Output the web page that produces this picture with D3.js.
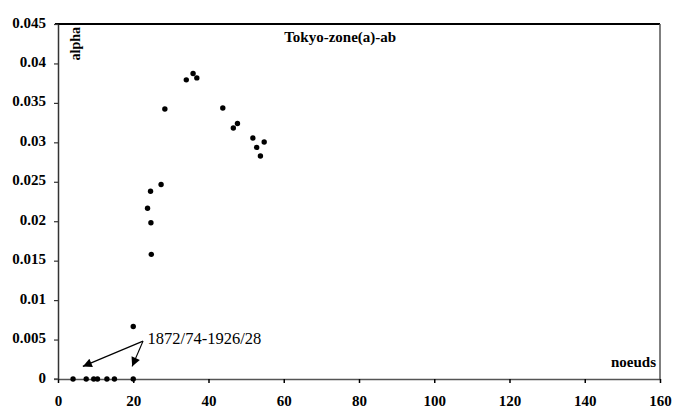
<!DOCTYPE html>
<html>
<head>
<meta charset="utf-8">
<script src="https://cdn.jsdelivr.net/npm/d3@7"></script>
<style>
  html, body { margin: 0; padding: 0; background: #fff; }
  svg { display: block; }
  svg text { font-family: 'Liberation Serif', 'Times New Roman', Times, serif !important; fill: #000; }
</style>
</head>
<body>
<script>
// ---- data ----
const title = "Tokyo-zone(a)-ab";
const xLabel = "noeuds";
const yLabel = "alpha";
const annotationText = "1872/74-1926/28";
const noeuds = [4, 7.5, 9.5, 10.5, 13, 15, 20, 20,
                24.8, 24.7, 23.8, 24.6, 27.4, 28.4,
                34.1, 35.9, 36.9, 43.8, 46.6, 47.7,
                51.8, 52.8, 54.8, 53.8];
const alpha = [0, 0, 0, 0, 0, 0, 0, 0.00665,
               0.0158, 0.0198, 0.02165, 0.0238, 0.02466, 0.03423,
               0.03792, 0.03873, 0.03817, 0.03436, 0.03182, 0.03238,
               0.03055, 0.02936, 0.03004, 0.02826];
const xTicks = [0, 20, 40, 60, 80, 100, 120, 140, 160];
const yTicks = [0, 0.005, 0.01, 0.015, 0.02, 0.025, 0.03, 0.035, 0.04, 0.045];
const yTickLabels = ["0", "0.005", "0.01", "0.015", "0.02", "0.025", "0.03", "0.035", "0.04", "0.045"];
// annotation anchors in data units: text start, arrow start, arrow tips
const annotAt = [23.8, 0.0045];
const arrowFrom = [22.6, 0.0048];
const arrowTips = [[6.6, 0.0016], [19.7, 0.0016]];
// title anchor in data units (centre of the title text)
const titleAt = [75, 0.0427];

// ---- layout ----
const W = 675, H = 410;
const FONT = "'Liberation Serif', 'Times New Roman', Times, serif";
const x = d3.scaleLinear().domain([0, 160]).range([58, 660]);
const y = d3.scaleLinear().domain([0, 0.045]).range([379, 24]);

const svg = d3.select("body").append("svg").attr("width", W).attr("height", H)
  .style("font-family", FONT);

svg.append("defs").append("marker")
  .attr("id", "ah").attr("viewBox", "0 0 10 10")
  .attr("refX", 10).attr("refY", 5)
  .attr("markerWidth", 11).attr("markerHeight", 9)
  .attr("markerUnits", "userSpaceOnUse")
  .attr("orient", "auto")
  .append("path").attr("d", "M0,0 L10,5 L0,10 z").attr("fill", "#000");

// frame: top and right
svg.append("line").attr("x1", 55).attr("x2", x(160)).attr("y1", y(0.045)).attr("y2", y(0.045))
  .attr("stroke", "#000").attr("stroke-width", 2);
svg.append("line").attr("x1", x(160)).attr("x2", x(160)).attr("y1", y(0.045)).attr("y2", y(0))
  .attr("stroke", "#555").attr("stroke-width", 1.5);

// x axis
const xAxis = d3.axisBottom(x).tickValues(xTicks).tickSize(4).tickSizeOuter(0).tickPadding(12);
const gx = svg.append("g").attr("transform", `translate(0,${y(0)})`).call(xAxis)
  .attr("font-family", null).attr("font-size", null);
gx.select(".domain").attr("stroke", "#555").attr("stroke-width", 1.5);
gx.selectAll(".tick line").attr("stroke", "#000").attr("stroke-width", 1.5);
gx.selectAll(".tick text").style("font-size", "15px").style("font-weight", "bold")
  .style("font-family", FONT).attr("fill", "#000");

// y axis
const yAxis = d3.axisLeft(y).tickValues(yTicks).tickSize(4).tickSizeOuter(0).tickPadding(8)
  .tickFormat((d, i) => yTickLabels[i]);
const gy = svg.append("g").attr("transform", `translate(${x(0)},0)`).call(yAxis)
  .attr("font-family", null).attr("font-size", null);
gy.select(".domain").attr("stroke", "#333").attr("stroke-width", 1.5);
gy.selectAll(".tick line").attr("stroke", "#333").attr("stroke-width", 1.2);
gy.selectAll(".tick text").style("font-size", "15px").style("font-weight", "bold")
  .style("font-family", FONT).attr("fill", "#000").attr("dy", "0.2em");

// baseline x-axis extends a bit left of the y axis
svg.append("line").attr("x1", 54).attr("x2", x(0)).attr("y1", y(0)).attr("y2", y(0))
  .attr("stroke", "#555").attr("stroke-width", 1.5);

// title, axis labels
svg.append("text").attr("x", x(titleAt[0])).attr("y", y(titleAt[1]))
  .attr("text-anchor", "middle").style("font-size", "15px").style("font-weight", "bold").text(title);
svg.append("text").attr("transform", `translate(${x(0) + 22},27) rotate(-90)`)
  .attr("text-anchor", "end").style("font-size", "14px").style("font-weight", "bold").text(yLabel);
svg.append("text").attr("x", x(160) - 4).attr("y", 367)
  .attr("text-anchor", "end").style("font-size", "15px").style("font-weight", "bold").text(xLabel);

// annotation
svg.append("text").attr("x", x(annotAt[0])).attr("y", y(annotAt[1]))
  .style("font-size", "16.5px").text(annotationText);
arrowTips.forEach(t => {
  svg.append("line")
    .attr("x1", x(arrowFrom[0])).attr("y1", y(arrowFrom[1]))
    .attr("x2", x(t[0])).attr("y2", y(t[1]))
    .attr("stroke", "#000").attr("stroke-width", 1.2)
    .attr("marker-end", "url(#ah)");
});

// points
svg.append("g").selectAll("circle").data(noeuds.map((n, i) => [n, alpha[i]]))
  .join("circle")
  .attr("cx", d => x(d[0])).attr("cy", d => y(d[1]))
  .attr("r", 2.7).attr("fill", "#000");
</script>
</body>
</html>
